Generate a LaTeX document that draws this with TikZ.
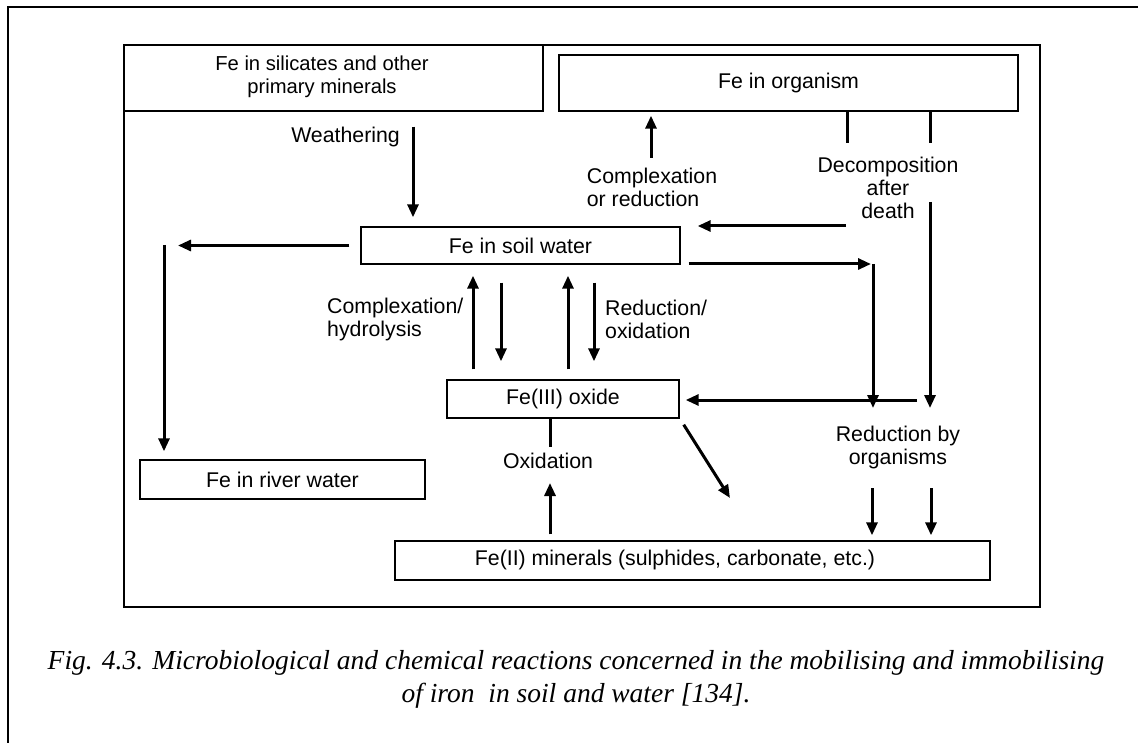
\documentclass[tikz,border=0pt]{standalone}
\usepackage{fontspec}
\newfontfamily\diag{Liberation Sans}
\newfontfamily\capfont{Liberation Serif}
\usetikzlibrary{arrows.meta}
\begin{document}
\begin{tikzpicture}[x=1pt,y=-1pt,
  box/.style={draw, line width=1.4pt, inner sep=0pt, font=\diag\fontsize{21.3}{23}\selectfont, align=center},
  lbl/.style={inner sep=0pt, font=\diag\fontsize{21.3}{23}\selectfont},
  ln/.style={line width=3pt},
  arr/.style={line width=3pt, -{Triangle[length=13pt,width=11pt]}}]
\useasboundingbox (0,0) rectangle (1138,743);

% page frame and diagram frame
\draw[line width=1.1pt] (8,743) -- (8,7) -- (1138,7);
\draw[line width=1.4pt] (124,45) rectangle (1040,607);

% boxes
\node[box, minimum width=419pt, minimum height=66pt] (b1) at (333.5,78) {};
\node[lbl, align=center, font=\diag\fontsize{20.2}{23.5}\selectfont] (t1) at (322,77) {Fe in silicates and other\\primary minerals};
\node[box, minimum width=459pt, minimum height=56pt] (b2) at (788.5,83) {Fe in organism};
\node[box, minimum width=319pt, minimum height=37pt] (soil) at (520.5,245.5) {Fe in soil water};
\node[box, minimum width=232pt, minimum height=38pt] (ox) at (563,399) {Fe(III) oxide};
\node[box, minimum width=285pt, minimum height=39pt] (river) at (282.5,479.5) {Fe in river water};
\node[box, minimum width=595pt, minimum height=39pt] (min) at (692.5,560.5) {};
\node[lbl] (t2) at (675,560) {Fe(II) minerals (sulphides, carbonate, etc.)};

% labels
\node[lbl, anchor=east] (lw) at (400,137) {Weathering};
\node[lbl, align=left] (lcr) at (652,187) {Complexation\\or reduction};
\node[lbl, align=center] (ld) at (888,188) {Decomposition\\after\\death};
\node[lbl, align=left, anchor=west] (lch) at (327,319) {Complexation/\\hydrolysis};
\node[lbl, align=left, anchor=west] (lro) at (605,319) {Reduction/\\oxidation};
\node[lbl] (lox) at (548,461) {Oxidation};
\node[lbl, align=center] (lrb) at (898,447) {Reduction by\\organisms};

% free ends
\coordinate (xw) at (413,0);
\coordinate (cr) at (651,158);
\coordinate (d1) at (847,143);
\coordinate (d2) at (930,143);
\coordinate (d3) at (930,202);
\coordinate (d4) at (930,408);
\coordinate (e1) at (846,226);
\coordinate (f1) at (873,264);
\coordinate (f2) at (873,408);
\coordinate (g1) at (917,400);
\coordinate (h1) at (872,488);
\coordinate (h2) at (931,488);
\coordinate (k1) at (730,498);
\coordinate (o1) at (550,447);
\coordinate (o2) at (550,483);
\coordinate (a1) at (473,0);
\coordinate (a2) at (501,0);
\coordinate (a3) at (568,0);
\coordinate (a4) at (594,0);
\coordinate (l1) at (178,245.5);
\coordinate (l2) at (164,245);

% connectors
\draw[arr, shorten <=15pt, shorten >=9pt] (b1.south -| xw) -- (soil.north -| xw);
\draw[arr, shorten >=4pt] (cr) -- (b2.south -| cr);
\draw[ln] (b2.south -| d1) -- (d1);
\draw[ln] (b2.south -| d2) -- (d2);
\draw[arr] (d3) -- (d4);
\draw[arr, shorten >=17pt] (e1) -- (soil.east |- e1);
\draw[arr, shorten <=8pt, shorten >=2pt] (soil.east |- f1) -- (f1);
\draw[arr] (f1) -- (f2);
\draw[arr, shorten >=6pt] (g1) -- (ox.east |- g1);
\draw[arr, shorten >=5pt] (h1) -- (min.north -| h1);
\draw[arr, shorten >=5pt] (h2) -- (min.north -| h2);
\draw[arr] ([shift={(4,6)}]ox.south east) -- (k1);
\draw[ln] (ox.south -| o1) -- (o1);
\draw[arr, shorten <=6pt] (min.north -| o2) -- (o2);
\draw[arr, shorten <=10pt, shorten >=11pt] (ox.north -| a1) -- (soil.south -| a1);
\draw[arr, shorten <=18pt, shorten >=18pt] (soil.south -| a2) -- (ox.north -| a2);
\draw[arr, shorten <=10pt, shorten >=11pt] (ox.north -| a3) -- (soil.south -| a3);
\draw[arr, shorten <=18pt, shorten >=18pt] (soil.south -| a4) -- (ox.north -| a4);
\draw[arr, shorten <=11pt] (soil.west) -- (l1);
\draw[arr, shorten >=8pt] (l2) -- (river.north -| l2);

% caption
\node[inner sep=0pt, font=\capfont\fontsize{27.5}{33}\selectfont\itshape, align=center] (cap) at (576,679)
  {Fig. 4.3. Microbiological and chemical reactions concerned in the mobilising and immobilising\\
   of iron\ \ in soil and water [134].};
\end{tikzpicture}
\end{document}
